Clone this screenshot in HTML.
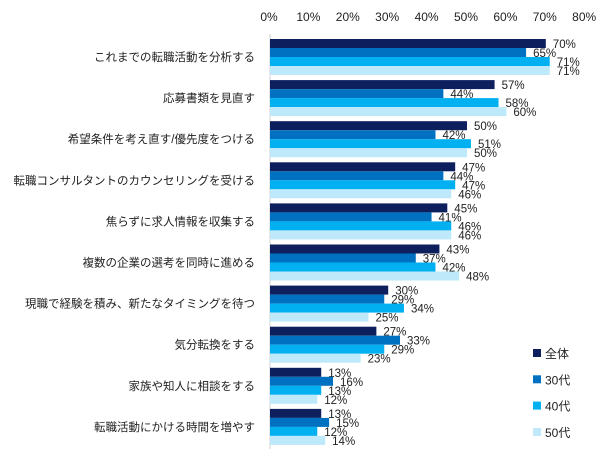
<!DOCTYPE html>
<html><head><meta charset="utf-8"><style>
body{margin:0;background:#fff;}
svg text{font-family:"Liberation Sans","Noto Sans CJK JP",sans-serif;fill:#222;}
</style></head><body>
<svg id="c" width="606" height="462" xmlns="http://www.w3.org/2000/svg"></svg>
<script>
const categories=["これまでの転職活動を分析する","応募書類を見直す","希望条件を考え直す/優先度をつける","転職コンサルタントのカウンセリングを受ける","焦らずに求人情報を収集する","複数の企業の選考を同時に進める","現職で経験を積み、新たなタイミングを待つ","気分転換をする","家族や知人に相談をする","転職活動にかける時間を増やす"];
const seriesNames=["全体","30代","40代","50代"];
const sAll=[70,57,50,47,45,43,30,27,13,13];
const s30=[65,44,42,44,41,37,29,33,16,15];
const s40=[71,58,51,47,46,42,34,29,13,12];
const s50=[71,60,50,46,46,48,25,23,12,14];
const ticks=[0,10,20,30,40,50,60,70,80];
const colors=["#0d1f5c","#0070c0","#00b0f0","#bde9fa"];
const series=[sAll,s30,s40,s50];
const svg=document.getElementById('c');
const NS="http://www.w3.org/2000/svg";
const x0=270,k=3.94,y0=39,pitch=41.1,bh=9;
const X=v=>x0+v*k;
function mk(t,a){const e=document.createElementNS(NS,t);for(const q in a)e.setAttribute(q,a[q]);svg.appendChild(e);return e;}
ticks.forEach(t=>{const e=mk('text',{x:X(t)-1,y:21,'font-size':12,'text-anchor':'middle'});e.textContent=t+'%';

});
const ax=mk('line',{x1:x0,y1:34,x2:x0,y2:449,stroke:'#d0d0d0','stroke-width':1});


categories.forEach((c,i)=>{const gy=y0+i*pitch;
const l=mk('text',{x:255,y:gy+bh*2+4,'font-size':11.5,'text-anchor':'end'});l.textContent=c;


series.forEach((s,j)=>{const y=gy+j*bh;
const r=mk('rect',{x:x0,y:y,width:s[i]*k,height:bh,fill:colors[j]});


const t=mk('text',{x:X(s[i])+7,y:y+9,'font-size':11.5});t.textContent=s[i]+'%';

});});
seriesNames.forEach((n,j)=>{const cy=353+j*26.3;
const r=mk('rect',{x:533,y:cy-4,width:8,height:8,fill:colors[j]});


const t=mk('text',{x:545,y:cy+5,'font-size':12});t.textContent=n;

});
</script>
</body></html>
